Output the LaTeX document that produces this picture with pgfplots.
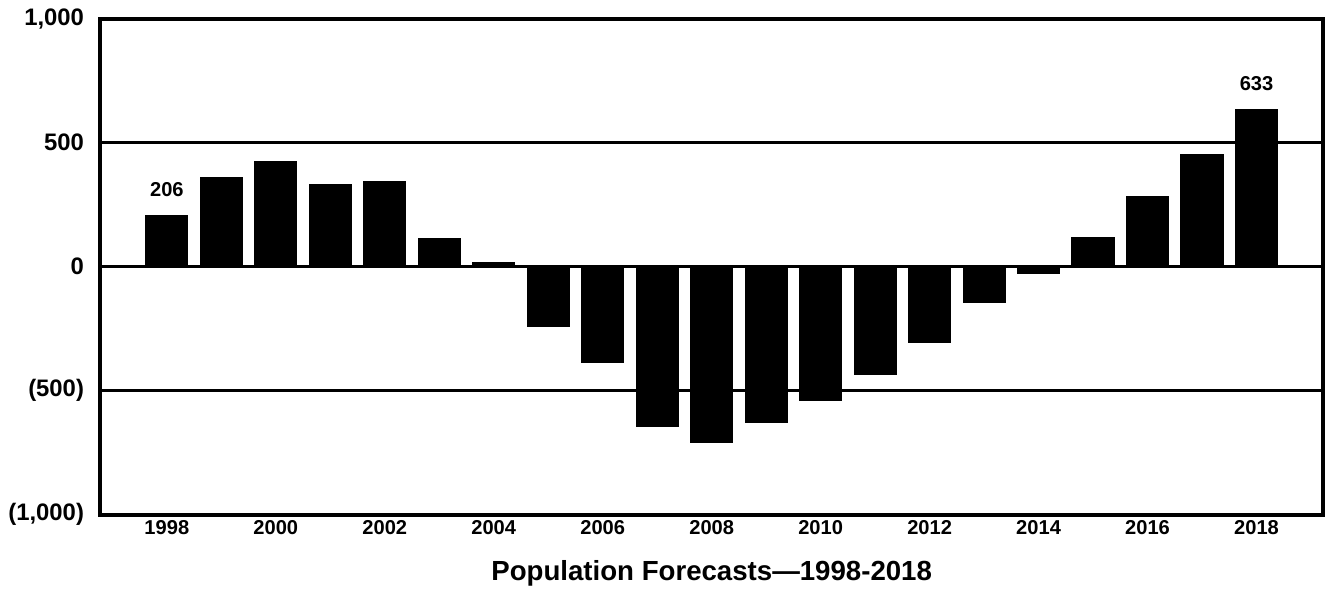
\documentclass[border=0pt]{standalone}
\usepackage{fontspec}
\setmainfont{Liberation Sans}
\usepackage{pgfplots}
\pgfplotsset{compat=1.18}
\usepackage{pgfplotstable}

% net population change per year (thousands)
\pgfplotstableread{
year val
1998 206
1999 360
2000 425
2001 332
2002 344
2003 113
2004 15
2005 -243
2006 -385
2007 -644
2008 -709
2009 -628
2010 -539
2011 -433
2012 -304
2013 -146
2014 -28
2015 117
2016 283
2017 453
2018 633
}\popdata

\begin{document}
\begin{tikzpicture}
\begin{axis}[
    scale only axis,
    width=486.8pt, height=197.6pt,
    ybar, bar width=16.8pt, bar shift=0pt,
    xmin=1996.78, xmax=2019.22,
    ymin=-1000, ymax=1000,
    xtick={1998,2000,...,2018},
    xticklabel style={/pgf/number format/1000 sep={}},
    ytick={-1000,-500,0,500,1000},
    yticklabels={{(1,000)},{(500)},0,500,{1,000}},
    /pgf/number format/assume math mode=true,
    tick style={draw=none},
    ymajorgrids,
    grid style={black, line width=1.2pt},
    axis line style={black, line width=1.6pt},
    xticklabel style={font=\fontsize{8}{9}\selectfont\bfseries, yshift=5.5pt},
    yticklabel style={font=\fontsize{9.5}{11}\selectfont\bfseries, xshift=-3pt},
    xlabel={Population Forecasts—1998-2018},
    xlabel style={font=\fontsize{11}{13}\selectfont\bfseries, yshift=-3.5pt},
]
\addplot[fill=black, draw=black] table[x=year, y=val] {\popdata};
\addplot[draw=none, fill=none, bar shift=0pt,
    nodes near coords,
    every node near coord/.append style={font=\fontsize{8}{9}\selectfont\bfseries, yshift=4pt}]
    coordinates {(1998,206) (2018,633)};
\end{axis}
\end{tikzpicture}
\end{document}
